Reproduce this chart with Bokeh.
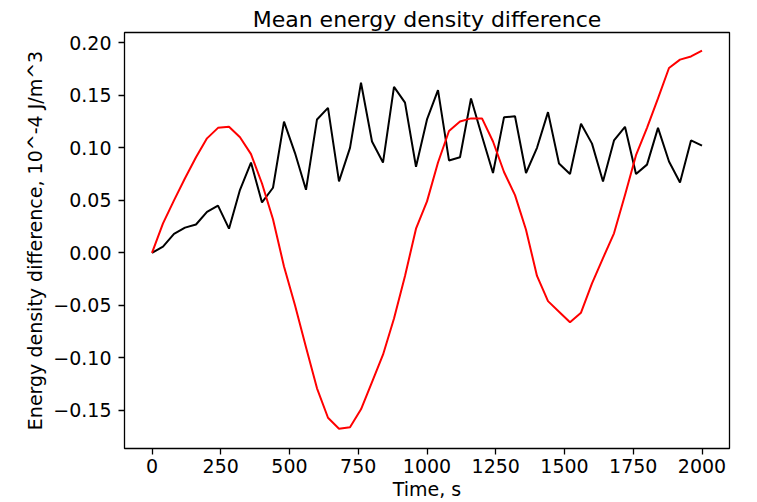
from bokeh.plotting import figure
from bokeh.models import Range1d, FixedTicker, CustomJSTickFormatter
from bokeh.embed import file_html
from bokeh.resources import INLINE

# ---- data ----
time_s = [0, 40, 80, 120, 160, 200, 240, 280, 320, 360,
          400, 440, 480, 520, 560, 600, 640, 680, 720, 760,
          800, 840, 880, 920, 960, 1000, 1040, 1080, 1120, 1160,
          1200, 1240, 1280, 1320, 1360, 1400, 1440, 1480, 1520, 1560,
          1600, 1640, 1680, 1720, 1760, 1800, 1840, 1880, 1920, 1960,
          2000]

black_series = [0.000, 0.006, 0.018, 0.024, 0.027, 0.039, 0.045, 0.023, 0.060, 0.086,
                0.048, 0.062, 0.125, 0.095, 0.060, 0.127, 0.138, 0.068, 0.100, 0.162,
                0.106, 0.086, 0.158, 0.143, 0.082, 0.127, 0.155, 0.088, 0.091, 0.147,
                0.111, 0.076, 0.129, 0.130, 0.076, 0.100, 0.134, 0.085, 0.075, 0.123,
                0.104, 0.068, 0.107, 0.120, 0.075, 0.084, 0.119, 0.087, 0.067, 0.107,
                0.102]

red_series = [0.000, 0.028, 0.050, 0.071, 0.091, 0.109, 0.119, 0.120, 0.110, 0.094,
              0.066, 0.032, -0.013, -0.050, -0.090, -0.129, -0.157, -0.1675, -0.166, -0.149,
              -0.123, -0.097, -0.0625, -0.022, 0.023, 0.049, 0.086, 0.116, 0.125, 0.128,
              0.128, 0.106, 0.077, 0.055, 0.022, -0.022, -0.046, -0.056, -0.066, -0.057,
              -0.029, -0.005, 0.0186, 0.055, 0.093, 0.119, 0.147, 0.176, 0.184, 0.187,
              0.1925]

x_ticks = [0, 250, 500, 750, 1000, 1250, 1500, 1750, 2000]
y_ticks = [-0.15, -0.10, -0.05, 0.0, 0.05, 0.10, 0.15, 0.20]

title_text = "Mean energy density difference"
x_label = "Time, s"
y_label = "Energy density difference, 10^-4 J/m^3"

FONT = "DejaVu Sans"

p = figure(width=757, height=502,
           x_range=Range1d(-100, 2100), y_range=Range1d(-0.1863, 0.2098),
           output_backend="svg", toolbar_location=None,
           min_border_left=124, min_border_right=28,
           min_border_top=32, min_border_bottom=54,
           title=title_text)

p.background_fill_color = "white"
p.border_fill_color = "white"
p.outline_line_color = "black"
p.outline_line_width = 1.3
p.xgrid.visible = False
p.ygrid.visible = False

p.title.text_font = FONT
p.title.text_font_size = "22px"
p.title.text_font_style = "normal"
p.title.text_color = "black"
p.title.align = "center"
p.title.standoff = 2

p.line(time_s, black_series, line_color="black", line_width=2)
p.line(time_s, red_series, line_color="#ff0000", line_width=2)

fmt = CustomJSTickFormatter(code="return tick.toFixed(2).replace('-', '\u2212');")

for ax in (p.xaxis[0], p.yaxis[0]):
    ax.axis_line_color = None
    ax.major_tick_line_color = "black"
    ax.major_tick_line_width = 1.3
    ax.major_tick_out = 6
    ax.major_tick_in = 0
    ax.minor_tick_line_color = None
    ax.major_label_text_font = FONT
    ax.major_label_text_font_size = "19px"
    ax.major_label_text_color = "black"
    ax.axis_label_text_font = FONT
    ax.axis_label_text_font_size = "19px"
    ax.axis_label_text_font_style = "normal"
    ax.axis_label_text_color = "black"

p.xaxis[0].ticker = FixedTicker(ticks=x_ticks)
p.yaxis[0].ticker = FixedTicker(ticks=y_ticks)
p.yaxis[0].formatter = fmt
p.xaxis[0].axis_label = x_label
p.yaxis[0].axis_label = y_label
p.xaxis[0].major_label_standoff = 4
p.xaxis[0].axis_label_standoff = 2
p.yaxis[0].major_label_standoff = 7
p.yaxis[0].axis_label_standoff = 4

open("out.html", "w").write(file_html(p, INLINE))
